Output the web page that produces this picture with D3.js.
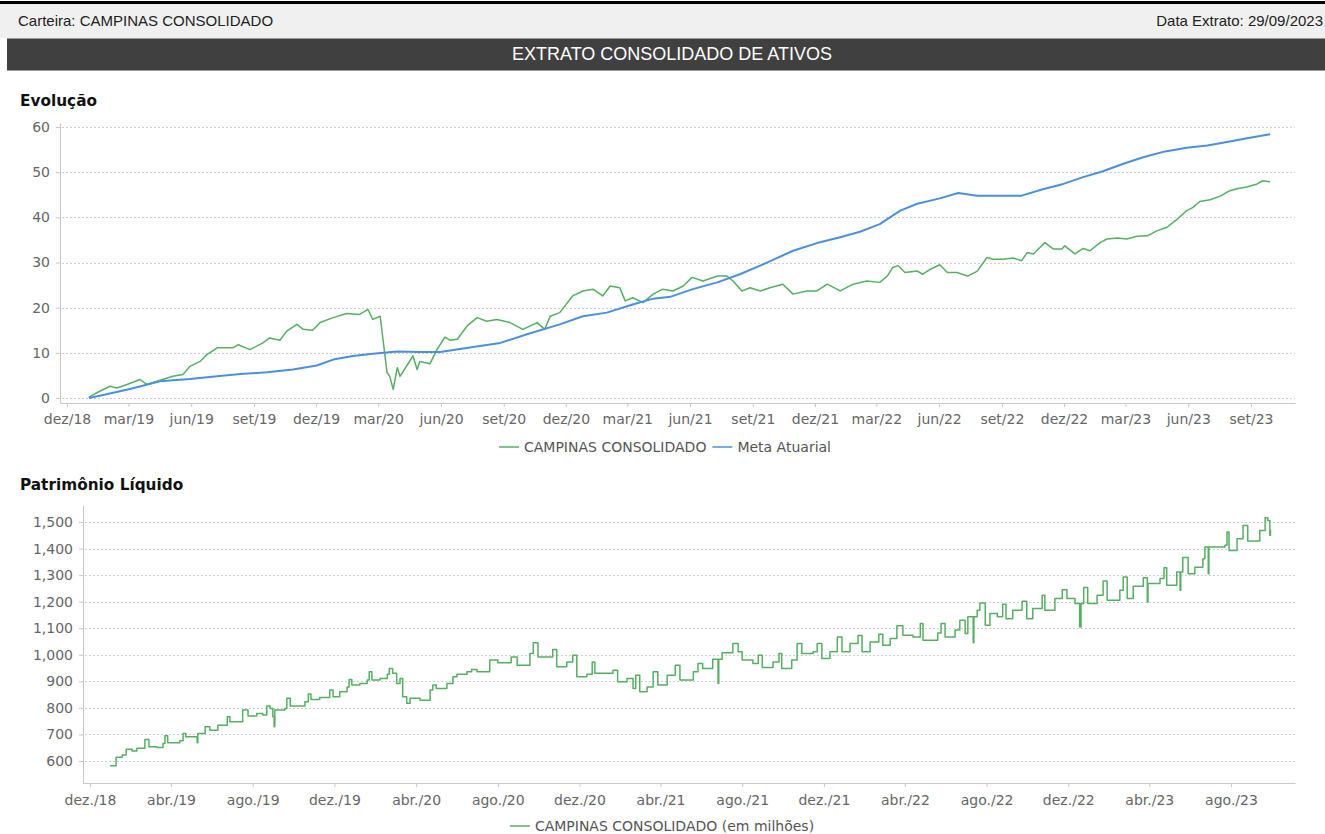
<!DOCTYPE html>
<html>
<head>
<meta charset="utf-8">
<script src="https://cdn.jsdelivr.net/npm/d3@7"></script>
<style>
  body { margin: 0; background: #fff; }
  svg { display: block; }
</style>
</head>
<body>
<svg id="page" width="1325" height="834"></svg>
<script>
// Evolução: rentabilidade acumulada (%)
const carteira = [
  ["2019-01-02",0.2],["2019-01-18",1.5],["2019-02-02",2.6],["2019-02-12",2.2],["2019-02-27",3.0],
  ["2019-03-18",4.1],["2019-03-28",3.0],["2019-04-12",3.7],["2019-05-05",4.8],["2019-05-20",5.2],
  ["2019-05-30",7.0],["2019-06-14",8.1],["2019-06-24",9.6],["2019-07-09",11.1],["2019-08-01",11.1],
  ["2019-08-09",11.8],["2019-08-26",10.7],["2019-09-14",12.2],["2019-09-24",13.3],["2019-10-09",12.8],
  ["2019-10-19",14.8],["2019-11-03",16.3],["2019-11-12",15.2],["2019-11-26",15.0],["2019-12-07",16.7],
  ["2019-12-26",17.8],["2020-01-15",18.7],["2020-02-03",18.5],["2020-02-15",19.6],["2020-02-22",17.4],
  ["2020-03-04",18.1],["2020-03-08",13.0],["2020-03-14",5.6],["2020-03-18",4.8],["2020-03-23",1.9],
  ["2020-03-29",6.7],["2020-04-02",4.8],["2020-04-21",9.3],["2020-04-27",6.3],["2020-05-01",8.1],
  ["2020-05-16",7.6],["2020-05-26",10.7],["2020-06-07",13.5],["2020-06-14",12.8],["2020-06-25",13.0],
  ["2020-07-09",15.9],["2020-07-24",17.8],["2020-08-07",17.0],["2020-08-22",17.4],["2020-09-10",16.7],
  ["2020-09-29",15.2],["2020-10-20",16.7],["2020-10-31",15.2],["2020-11-08",18.1],["2020-11-22",18.9],
  ["2020-12-11",22.6],["2020-12-26",23.7],["2021-01-10",24.1],["2021-01-24",22.6],["2021-02-04",24.8],
  ["2021-02-18",24.4],["2021-02-26",21.5],["2021-03-09",22.2],["2021-03-24",21.1],["2021-04-08",23.0],
  ["2021-04-22",24.1],["2021-05-07",23.7],["2021-05-22",24.8],["2021-06-04",26.7],["2021-06-20",25.9],
  ["2021-07-11",27.0],["2021-07-25",27.0],["2021-08-03",25.9],["2021-08-16",23.7],["2021-08-28",24.4],
  ["2021-09-12",23.7],["2021-09-26",24.4],["2021-10-15",25.2],["2021-10-30",23.0],["2021-11-19",23.7],
  ["2021-12-04",23.7],["2021-12-19",25.2],["2022-01-07",23.7],["2022-01-26",25.2],["2022-02-15",25.9],
  ["2022-03-06",25.6],["2022-03-17",27.0],["2022-03-25",28.9],["2022-04-02",29.3],["2022-04-12",27.8],
  ["2022-04-30",28.1],["2022-05-08",27.4],["2022-05-19",28.5],["2022-06-02",29.5],["2022-06-13",27.8],
  ["2022-06-27",27.8],["2022-07-13",27.0],["2022-07-27",28.1],["2022-08-10",31.1],["2022-08-19",30.7],
  ["2022-09-03",30.7],["2022-09-17",31.0],["2022-09-30",30.4],["2022-10-08",32.2],["2022-10-17",31.9],
  ["2022-11-03",34.4],["2022-11-15",33.0],["2022-11-28",33.0],["2022-12-02",33.7],["2022-12-17",31.9],
  ["2022-12-29",33.1],["2023-01-08",32.6],["2023-01-23",34.4],["2023-02-02",35.2],["2023-02-17",35.4],
  ["2023-03-03",35.2],["2023-03-18",35.8],["2023-04-02",35.9],["2023-04-16",37.0],["2023-05-01",37.8],
  ["2023-05-16",39.6],["2023-05-30",41.5],["2023-06-08",42.2],["2023-06-18",43.5],["2023-07-03",43.9],
  ["2023-07-18",44.7],["2023-08-01",45.9],["2023-08-13",46.4],["2023-08-26",46.7],["2023-09-10",47.4],
  ["2023-09-18",48.1],["2023-09-29",47.9]
];

const metaAtuarial = [
  ["2019-01-02",0.0],["2019-01-18",0.5],["2019-02-28",1.9],["2019-03-22",2.7],["2019-04-16",3.7],
  ["2019-05-30",4.2],["2019-07-09",4.8],["2019-08-12",5.3],["2019-09-20",5.7],["2019-10-28",6.3],
  ["2019-12-02",7.2],["2019-12-26",8.5],["2020-01-24",9.3],["2020-02-22",9.8],["2020-03-29",10.3],
  ["2020-05-01",10.2],["2020-05-31",10.2],["2020-07-18",11.3],["2020-08-27",12.2],["2020-10-05",14.1],
  ["2020-11-22",16.3],["2020-12-26",18.1],["2021-01-30",18.9],["2021-03-09",20.7],["2021-04-08",22.0],
  ["2021-05-03",22.4],["2021-06-05",24.1],["2021-07-11",25.6],["2021-08-13",27.4],["2021-09-16",29.6],
  ["2021-10-30",32.6],["2021-12-04",34.3],["2022-01-07",35.6],["2022-02-05",36.8],["2022-03-06",38.5],
  ["2022-04-05",41.5],["2022-04-30",43.0],["2022-06-02",44.2],["2022-06-29",45.4],["2022-07-27",44.8],
  ["2022-08-29",44.8],["2022-09-30",44.8],["2022-10-31",46.2],["2022-11-30",47.4],["2022-12-29",48.9],
  ["2023-01-27",50.2],["2023-02-25",51.8],["2023-03-27",53.3],["2023-04-28",54.6],["2023-05-30",55.4],
  ["2023-06-29",55.9],["2023-07-28",56.7],["2023-08-26",57.5],["2023-09-29",58.4]
];

// Patrimônio Líquido (em milhões)
const patrimonio = [
  ["2018-12-31",582],["2019-01-09",614],["2019-01-18",623],["2019-01-24",644],["2019-02-02",638],
  ["2019-02-09",648],["2019-02-21",681],["2019-02-27",654],["2019-03-11",651],["2019-03-20",666],
  ["2019-03-23",695],["2019-03-27",669],["2019-04-14",676],["2019-04-19",704],["2019-04-23",691],
  ["2019-05-10",669],["2019-05-11",704],["2019-05-22",729],["2019-05-29",716],["2019-06-10",735],
  ["2019-06-24",767],["2019-06-28",748],["2019-07-17",792],["2019-07-25",769],["2019-08-07",779],
  ["2019-08-16",773],["2019-08-22",807],["2019-08-27",798],["2019-08-31",767],["2019-09-02",729],
  ["2019-09-03",792],["2019-09-18",798],["2019-09-21",836],["2019-09-26",807],["2019-10-18",823],
  ["2019-10-23",852],["2019-10-27",832],["2019-11-09",839],["2019-11-24",867],["2019-11-29",842],
  ["2019-12-09",861],["2019-12-20",879],["2019-12-23",907],["2019-12-27",886],["2020-01-08",892],
  ["2020-01-19",905],["2020-01-22",936],["2020-01-26",905],["2020-02-07",911],["2020-02-18",927],
  ["2020-02-21",948],["2020-02-26",930],["2020-03-03",892],["2020-03-08",911],["2020-03-12",842],
  ["2020-03-18",817],["2020-03-23",836],["2020-04-07",829],["2020-04-22",867],["2020-04-26",886],
  ["2020-05-01",873],["2020-05-17",892],["2020-05-26",917],["2020-06-01",927],["2020-06-16",936],
  ["2020-06-23",945],["2020-07-01",936],["2020-07-20",980],["2020-08-01",970],["2020-08-21",992],
  ["2020-08-30",961],["2020-09-18",1005],["2020-09-23",1045],["2020-09-30",992],["2020-10-22",1020],
  ["2020-10-28",955],["2020-11-12",973],["2020-11-21",998],["2020-11-27",917],["2020-12-12",927],
  ["2020-12-20",973],["2020-12-24",930],["2021-01-20",942],["2021-01-27",898],["2021-02-10",911],
  ["2021-02-19",873],["2021-02-23",923],["2021-03-01",861],["2021-03-12",879],["2021-03-21",936],
  ["2021-03-28",886],["2021-04-11",923],["2021-04-23",961],["2021-04-30",905],["2021-05-20",936],
  ["2021-05-27",967],["2021-06-03",948],["2021-06-18",983],["2021-06-26",892],["2021-06-27",983],
  ["2021-07-02",1008],["2021-07-18",1042],["2021-07-26",1011],["2021-08-01",980],["2021-08-17",967],
  ["2021-08-25",998],["2021-08-31",952],["2021-09-16",973],["2021-09-25",1005],["2021-09-29",948],
  ["2021-10-14",980],["2021-10-22",1042],["2021-10-29",1005],["2021-11-15",1011],["2021-11-21",1042],
  ["2021-11-28",986],["2021-12-10",1011],["2021-12-21",1067],["2021-12-28",1011],["2022-01-09",1042],
  ["2022-01-21",1073],["2022-01-27",1011],["2022-02-08",1048],["2022-02-21",1077],["2022-02-27",1036],
  ["2022-03-10",1061],["2022-03-20",1109],["2022-03-29",1074],["2022-04-13",1067],["2022-04-24",1118],
  ["2022-04-28",1055],["2022-05-20",1082],["2022-05-25",1118],["2022-05-31",1067],["2022-06-15",1093],
  ["2022-06-22",1130],["2022-06-30",1080],["2022-07-04",1143],["2022-07-12",1045],["2022-07-13",1143],
  ["2022-07-18",1168],["2022-07-22",1195],["2022-07-30",1111],["2022-08-06",1155],["2022-08-17",1143],
  ["2022-08-25",1190],["2022-08-30",1136],["2022-09-09",1168],["2022-09-23",1202],["2022-09-30",1136],
  ["2022-10-09",1174],["2022-10-23",1224],["2022-10-27",1168],["2022-11-11",1212],["2022-11-22",1245],
  ["2022-11-29",1212],["2022-12-11",1193],["2022-12-18",1105],["2022-12-20",1193],["2022-12-24",1253],
  ["2022-12-30",1193],["2023-01-13",1224],["2023-01-22",1278],["2023-01-28",1205],["2023-02-16",1243],
  ["2023-02-21",1293],["2023-02-27",1212],["2023-03-08",1258],["2023-03-23",1290],["2023-03-29",1199],
  ["2023-03-30",1268],["2023-04-17",1287],["2023-04-23",1328],["2023-04-27",1262],["2023-05-12",1312],
  ["2023-05-17",1243],["2023-05-18",1312],["2023-05-21",1366],["2023-05-29",1305],["2023-06-08",1330],
  ["2023-06-20",1362],["2023-06-23",1406],["2023-06-28",1305],["2023-06-29",1406],["2023-07-23",1412],
  ["2023-07-26",1462],["2023-07-29",1393],["2023-08-10",1437],["2023-08-19",1487],["2023-08-26",1428],
  ["2023-09-13",1468],["2023-09-21",1516],["2023-09-25",1506],["2023-09-28",1450],["2023-09-29",1471]
];

const evoYTicks = [0, 10, 20, 30, 40, 50, 60];
const evoXTicks = ["2018-12-01","2019-03-01","2019-06-01","2019-09-01","2019-12-01","2020-03-01",
  "2020-06-01","2020-09-01","2020-12-01","2021-03-01","2021-06-01","2021-09-01","2021-12-01",
  "2022-03-01","2022-06-01","2022-09-01","2022-12-01","2023-03-01","2023-06-01","2023-09-01"];
const plYTicks = [600, 700, 800, 900, 1000, 1100, 1200, 1300, 1400, 1500];
const plXTicks = ["2018-12-01","2019-04-01","2019-08-01","2019-12-01","2020-04-01","2020-08-01",
  "2020-12-01","2021-04-01","2021-08-01","2021-12-01","2022-04-01","2022-08-01","2022-12-01",
  "2023-04-01","2023-08-01"];

const green = "#55b062";
const blue = "#4a90e0";
const axisFont = "DejaVu Sans, Verdana, sans-serif";
const headFont = "Liberation Sans, Arial, sans-serif";

const parse = d3.timeParse("%Y-%m-%d");
const ptBR = d3.timeFormatLocale({
  dateTime: "%d/%m/%Y %H:%M:%S", date: "%d/%m/%Y", time: "%H:%M:%S", periods: ["AM", "PM"],
  days: ["domingo","segunda","terça","quarta","quinta","sexta","sábado"],
  shortDays: ["dom","seg","ter","qua","qui","sex","sáb"],
  months: ["janeiro","fevereiro","março","abril","maio","junho","julho","agosto","setembro","outubro","novembro","dezembro"],
  shortMonths: ["jan","fev","mar","abr","mai","jun","jul","ago","set","out","nov","dez"]
});

let svg = d3.select("#page");

// cabeçalho
svg.append("rect").attr("x", 0).attr("y", 1).attr("width", 1325).attr("height", 3).attr("fill", "#000");
svg.append("rect").attr("x", 0).attr("y", 4).attr("width", 1325).attr("height", 34).attr("fill", "#f0f0f0");
svg.append("rect").attr("x", 7).attr("y", 38).attr("width", 1318).attr("height", 33).attr("fill", "#404040");
svg.append("line").attr("x1", 7).attr("x2", 1325).attr("y1", 38.5).attr("y2", 38.5).attr("stroke", "#9a9a9a");
svg.append("line").attr("x1", 7).attr("x2", 1325).attr("y1", 70.5).attr("y2", 70.5).attr("stroke", "#9a9a9a");

svg.append("text").attr("x", 18).attr("y", 26).text("Carteira: CAMPINAS CONSOLIDADO")
  .attr("style", `font: 15px ${headFont}; fill: #222;`);
svg.append("text").attr("x", 1323).attr("y", 26).attr("text-anchor", "end").text("Data Extrato: 29/09/2023")
  .attr("style", `font: 15px ${headFont}; fill: #222;`);
svg.append("text").attr("x", 672).attr("y", 60).attr("text-anchor", "middle").text("EXTRATO CONSOLIDADO DE ATIVOS")
  .attr("style", `font: 18px ${headFont}; fill: #fff;`);

function extend(scale, d0, d1, r0, r1) {
  // escala definida por dois pontos conhecidos e estendida até as bordas do eixo
  scale.range([r0, r1]);
  let a = scale.invert(d0), b = scale.invert(d1);
  return scale.domain([a, b]).range([d0, d1]);
}

function drawPanel(cfg) {
  let g = svg.append("g");
  let x = cfg.x, y = cfg.y;
  let left = x.range()[0], right = x.range()[1];
  let bottom = y.range()[0], top = y.range()[1];

  g.append("text").attr("x", 20).attr("y", cfg.titleY).text(cfg.title)
    .attr("style", `font: bold 15.3px ${axisFont}; fill: #111;`);

  g.selectAll(".grid").data(cfg.yTicks).enter().append("line")
    .attr("x1", left + 2).attr("x2", right)
    .attr("y1", d => Math.round(y(d)) + 0.5).attr("y2", d => Math.round(y(d)) + 0.5)
    .attr("style", "stroke: #cfcfcf; stroke-width: 1px; stroke-dasharray: 2,2;");

  let xAxis = d3.axisBottom(x).tickValues(cfg.xTicks.map(parse))
    .tickFormat(ptBR.format(cfg.xFormat)).tickSize(4).tickSizeOuter(0).tickPadding(cfg.xPad);
  let yAxis = d3.axisLeft(y).tickValues(cfg.yTicks).tickFormat(cfg.yFormat)
    .tickSize(4).tickSizeOuter(0).tickPadding(cfg.yPad);

  let gx = g.append("g").attr("transform", `translate(0,${bottom})`).call(xAxis);
  let gy = g.append("g").attr("transform", `translate(${left},0)`).call(yAxis);
  [gx, gy].forEach(a => {
    a.selectAll("path, line").attr("stroke", "#c8c8c8");
    a.selectAll("text").attr("fill", "#666").style("font", `14px ${axisFont}`);
  });

  cfg.series.forEach(s => {
    let line = d3.line().x(d => x(parse(d[0]))).y(d => y(d[1]));
    if (s.step) line.curve(d3.curveStepAfter);
    g.append("path").datum(s.data)
      .attr("style", `stroke: ${s.color}; stroke-width: ${s.width}px; fill: none; stroke-linejoin: round;`)
      .attr("d", line);
  });

  // legenda centralizada
  let lg = g.append("g");
  let cx = 0;
  cfg.series.forEach((s, i) => {
    if (i > 0) cx += 6;
    lg.append("line").attr("x1", cx).attr("x2", cx + 20).attr("y1", 0).attr("y2", 0)
      .attr("style", `stroke: ${s.color}; stroke-width: 1.5px;`);
    let t = lg.append("text").attr("x", cx + 25).attr("y", 5).text(s.label)
      .attr("style", `font: 14px ${axisFont}; fill: #555;`);
    cx += 25 + t.node().getComputedTextLength();
  });
  lg.attr("transform", `translate(${cfg.legendCX - cx / 2},${cfg.legendY})`);
}

let xEvo = extend(d3.scaleTime().domain([parse("2018-12-01"), parse("2023-09-01")]), 60, 1295, 67, 1251);
let yEvo = extend(d3.scaleLinear().domain([0, 60]), 403, 123, 398, 127);

drawPanel({
  title: "Evolução", titleY: 106,
  x: xEvo, y: yEvo,
  xTicks: evoXTicks, xFormat: "%b/%y", xPad: 7,
  yTicks: evoYTicks, yFormat: d3.format("d"), yPad: 6,
  series: [
    { label: "CAMPINAS CONSOLIDADO", data: carteira, color: green, width: 1.5 },
    { label: "Meta Atuarial", data: metaAtuarial, color: blue, width: 2 }
  ],
  legendCX: 665, legendY: 447
});

let xPl = extend(d3.scaleTime().domain([parse("2018-12-01"), parse("2023-08-01")]), 83, 1295, 90, 1231);
let yPl = extend(d3.scaleLinear().domain([600, 1500]), 783, 505, 761, 522);

drawPanel({
  title: "Patrimônio Líquido", titleY: 490,
  x: xPl, y: yPl,
  xTicks: plXTicks, xFormat: "%b./%y", xPad: 8,
  yTicks: plYTicks, yFormat: d3.format(","), yPad: 6,
  series: [
    { label: "CAMPINAS CONSOLIDADO (em milhões)", data: patrimonio, color: green, width: 1.5, step: true }
  ],
  legendCX: 662, legendY: 826
});
</script>
</body>
</html>
